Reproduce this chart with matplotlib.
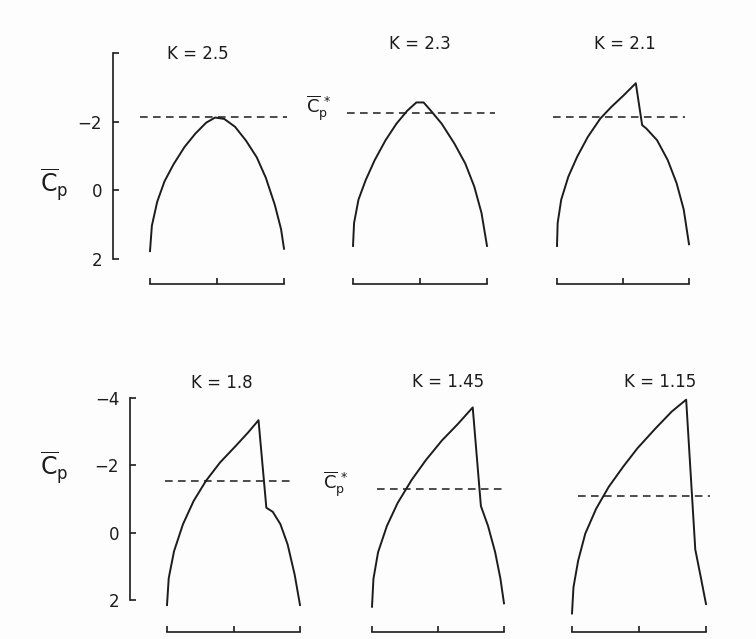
import matplotlib.pyplot as plt

plt.rcParams['font.family'] = 'DejaVu Sans'

W, H = 756, 639
INK = '#1c1c1c'

k_labels = ['2.5', '2.3', '2.1', '1.8', '1.45', '1.15']
cp_star = [-2.15, -2.25, -2.14, -1.54, -1.30, -1.08]

# chordwise station x/c and mean pressure coefficient, one pair per K
x_k25 = [0, 0.014, 0.054, 0.108, 0.176, 0.257, 0.338, 0.419, 0.486,
         0.554, 0.635, 0.716, 0.797, 0.865, 0.932, 0.978, 1.0]
cp_k25 = [1.77, 1.03, 0.33, -0.26, -0.76, -1.26, -1.65, -1.97, -2.12,
          -2.08, -1.85, -1.45, -0.96, -0.36, 0.43, 1.13, 1.70]

x_k23 = [0, 0.008, 0.041, 0.095, 0.162, 0.243, 0.324, 0.405, 0.473,
         0.527, 0.581, 0.662, 0.757, 0.838, 0.905, 0.959, 1.0]
cp_k23 = [1.62, 0.95, 0.27, -0.30, -0.88, -1.46, -1.94, -2.32, -2.56,
          -2.56, -2.32, -1.94, -1.36, -0.78, -0.11, 0.66, 1.62]

x_k21 = [0, 0.005, 0.032, 0.086, 0.153, 0.234, 0.328, 0.409, 0.503,
         0.597, 0.645, 0.677, 0.758, 0.839, 0.906, 0.960, 1.0]
cp_k21 = [1.62, 0.95, 0.27, -0.40, -0.98, -1.56, -2.09, -2.42, -2.76,
          -3.12, -1.90, -1.80, -1.46, -0.88, -0.21, 0.56, 1.57]

x_k18 = [0, 0.013, 0.053, 0.12, 0.2, 0.293, 0.4, 0.52, 0.613, 0.688,
         0.747, 0.795, 0.853, 0.907, 0.96, 1.0]
cp_k18 = [2.15, 1.35, 0.55, -0.25, -0.94, -1.54, -2.09, -2.59, -2.99, -3.34,
          -0.74, -0.62, -0.25, 0.35, 1.25, 2.15]

x_k145 = [0, 0.011, 0.046, 0.113, 0.194, 0.301, 0.409, 0.530, 0.651, 0.763,
          0.825, 0.879, 0.933, 0.973, 1.0]
cp_k145 = [2.2, 1.37, 0.58, -0.20, -0.88, -1.57, -2.16, -2.74, -3.23, -3.72,
           -0.79, -0.20, 0.58, 1.37, 2.10]

x_k115 = [0, 0.011, 0.046, 0.099, 0.18, 0.274, 0.382, 0.489, 0.624, 0.745,
          0.852, 0.92, 0.96, 1.0]
cp_k115 = [2.40, 1.62, 0.83, 0.03, -0.71, -1.36, -1.96, -2.51, -3.10, -3.60,
           -3.95, 0.50, 1.30, 2.12]

curves = [(x_k25, cp_k25), (x_k23, cp_k23), (x_k21, cp_k21),
          (x_k18, cp_k18), (x_k145, cp_k145), (x_k115, cp_k115)]

# panel frames in pixels: chord start, chord end, top (Cp=-4), bottom (Cp=2)
frames = [(150, 284, 53, 259), (353, 487, 53, 259), (557, 689, 53, 259),
          (167, 300, 398, 600), (372, 504, 398, 600), (572, 706, 398, 600)]
dash_span = [(-0.075, 1.02), (-0.045, 1.06), (-0.03, 0.97),
             (-0.015, 0.95), (0.04, 1.0), (0.045, 1.03)]
title_pos = [(0.36, -3.97), (0.5, -4.26), (0.515, -4.26),
             (0.41, -4.44), (0.576, -4.47), (0.66, -4.47)]

fig = plt.figure(figsize=(W / 100, H / 100), dpi=100)
fig.patch.set_facecolor('#fdfdfd')

for i, ((xs, cps), (x0, x1, yt, yb)) in enumerate(zip(curves, frames)):
    ax = fig.add_axes([x0 / W, 1 - yb / H, (x1 - x0) / W, (yb - yt) / H])
    ax.set_facecolor('none')
    ax.set_xlim(0, 1)
    ax.set_ylim(2, -4)

    ax.plot(xs, cps, color=INK, lw=1.4, clip_on=False)
    ax.hlines(cp_star[i], *dash_span[i], colors=INK, lw=1.1,
              linestyles=(0, (5, 3.5)), clip_on=False)
    tx, ty = title_pos[i]
    ax.text(tx, ty, f'K = {k_labels[i]}', ha='center', va='center',
            fontsize=12, color=INK, clip_on=False)

    for side in ('top', 'right'):
        ax.spines[side].set_visible(False)

    # chord bracket under each distribution
    bottom = ax.spines['bottom']
    bottom.set_position(('outward', 18 if i < 3 else 23))
    bottom.set_bounds(0, 1)
    bottom.set_color(INK)
    bottom.set_linewidth(1.2)
    ax.set_xticks([0, 0.5, 1])
    ax.tick_params(axis='x', direction='in', length=4, width=1.2,
                   color=INK, labelbottom=False)

    if i in (0, 3):
        left = ax.spines['left']
        left.set_position(('axes', -0.276))
        left.set_color(INK)
        left.set_linewidth(1.2)
        ax.set_yticks([-4, -2, 0, 2])
        top_label = '' if i == 0 else '\u22124'
        ax.set_yticklabels([top_label, '\u22122', '0', '2'])
        ax.tick_params(axis='y', direction='in', length=4, width=1.2,
                       color=INK, labelsize=12, labelcolor=INK, pad=8)
    else:
        ax.spines['left'].set_visible(False)
        ax.set_yticks([])

cp_bar = r'$\overline{\mathrm{C}}_{\mathrm{p}}$'
cp_bar_star = r'$\overline{\mathrm{C}}_{\mathrm{p}}^{\,*}$'
fig.text(54 / W, 1 - 185 / H, cp_bar, fontsize=17, color=INK, ha='center', va='center')
fig.text(54 / W, 1 - 468 / H, cp_bar, fontsize=17, color=INK, ha='center', va='center')
fig.text(319 / W, 1 - 108 / H, cp_bar_star, fontsize=13, color=INK, ha='center', va='center')
fig.text(336 / W, 1 - 484 / H, cp_bar_star, fontsize=13, color=INK, ha='center', va='center')

fig.savefig('out.png', dpi=100, facecolor=fig.get_facecolor())
